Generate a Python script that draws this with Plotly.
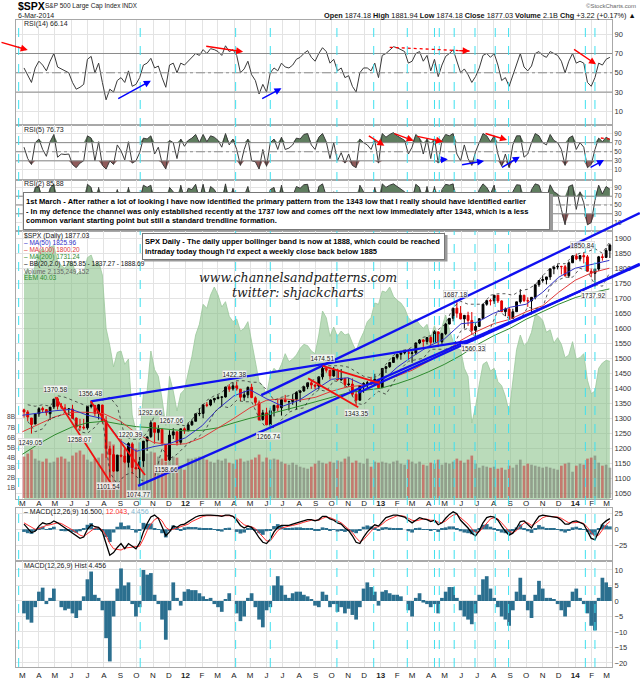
import pandas as pd
import plotly.graph_objects as go

W, H = 640, 679
PL, PR = 16, 612
X0, X1 = pd.Timestamp('2011-02-17'), pd.Timestamp('2014-03-11')
PXD = (PR - PL) / (X1 - X0).days

weeks = pd.date_range('2011-03-04', periods=158, freq='7D')
wk2 = weeks[1::2]
ma_dates = list(pd.date_range('2011-03-01', '2014-03-01', freq='MS')) + [pd.Timestamp('2014-03-06')]

spx_open = [1328,1321,1301,1281,1315,1333,1329,1315,1338,1365,1340,1334,1330,1331,1301,1272,1271,1268,1339,1343,1316,1344,1292,1198,1179,1124,1177,1174,1153,1214,1136,1131,1158,1224,1239,1285,1253,1263,1212,1162,1244,1255,1220,1265,
            1258,1278,1290,1315,1316,1345,1344,1361,1366,1370,1371,1405,1398,1408,1397,1370,1378,1403,1368,1351,1296,1318,1278,1325,1343,1335,1362,1355,1356,1363,1386,1391,1405,1418,1411,1407,1438,1466,1460,1441,1461,1428,1433,1412,1414,1380,1360,1409,1416,1418,1413,1430,
            1402,1466,1472,1486,1503,1513,1518,1520,1516,1518,1551,1561,1556,1569,1553,1588,1555,1582,1614,1633,1667,1650,1631,1643,1626,1593,1606,1632,1680,1692,1691,1710,1691,1655,1664,1633,1655,1688,1710,1692,1691,1703,1745,1759,1762,1771,1798,1804,1806,1805,1775,1818,
            1841,1831,1842,1838,1790,1783,1797,1838,1836,1859]
spx_high = [1332,1327,1301,1314,1337,1339,1329,1338,1364,1371,1351,1347,1334,1345,1302,1298,1298,1341,1356,1343,1347,1345,1307,1208,1208,1178,1231,1204,1220,1220,1195,1171,1224,1239,1293,1285,1277,1266,1212,1260,1267,1255,1265,1270,
            1284,1296,1315,1334,1345,1354,1363,1368,1378,1372,1405,1414,1420,1422,1397,1392,1406,1415,1373,1359,1328,1335,1335,1345,1363,1362,1378,1358,1380,1390,1394,1406,1418,1426,1413,1438,1475,1467,1461,1471,1465,1464,1434,1434,1433,1389,1409,1420,1424,1438,1448,1431,
            1467,1473,1486,1503,1514,1518,1524,1530,1525,1552,1564,1564,1570,1573,1593,1588,1585,1618,1634,1667,1687,1674,1644,1655,1654,1620,1632,1680,1693,1698,1710,1709,1693,1669,1670,1665,1688,1730,1711,1703,1704,1745,1759,1776,1771,1798,1805,1813,1808,1811,1823,1844,
            1849,1843,1851,1844,1799,1798,1841,1847,1867,1882]
spx_low = [1302,1291,1249,1280,1305,1320,1309,1294,1331,1329,1331,1318,1311,1297,1268,1258,1262,1262,1333,1307,1296,1282,1168,1102,1121,1124,1170,1150,1136,1114,1131,1075,1138,1191,1234,1215,1226,1209,1159,1158,1231,1209,1212,1248,
           1258,1275,1290,1307,1300,1337,1340,1352,1363,1340,1369,1388,1392,1392,1357,1358,1367,1367,1343,1292,1292,1278,1267,1306,1324,1309,1354,1326,1345,1329,1354,1388,1397,1398,1397,1396,1429,1452,1429,1438,1425,1425,1403,1405,1373,1343,1360,1385,1398,1411,1410,1398,
           1402,1451,1468,1485,1496,1495,1513,1497,1485,1512,1547,1538,1546,1539,1549,1537,1548,1577,1613,1623,1635,1630,1599,1608,1577,1560,1604,1632,1675,1676,1681,1684,1655,1640,1627,1633,1655,1682,1687,1671,1646,1696,1738,1752,1746,1761,1780,1796,1779,1772,1768,1818,
           1827,1823,1816,1790,1770,1738,1791,1825,1835,1834]
spx_close = [1321,1304,1279,1314,1332,1328,1319,1337,1364,1340,1338,1333,1331,1300,1271,1271,1268,1339,1344,1316,1345,1292,1199,1179,1124,1177,1174,1154,1216,1136,1131,1155,1224,1238,1285,1253,1263,1216,1159,1244,1255,1219,1265,1258,
             1278,1289,1315,1316,1345,1343,1361,1366,1370,1371,1404,1397,1408,1398,1370,1378,1403,1369,1353,1295,1318,1278,1325,1343,1335,1362,1355,1356,1363,1386,1391,1405,1418,1411,1407,1438,1466,1460,1441,1461,1428,1433,1412,1414,1380,1360,1409,1416,1418,1413,1430,1402,
             1466,1472,1486,1503,1513,1518,1520,1516,1518,1551,1561,1556,1569,1553,1588,1555,1582,1614,1633,1667,1650,1631,1643,1626,1593,1606,1632,1680,1692,1691,1710,1691,1655,1664,1633,1655,1688,1710,1692,1691,1703,1745,1759,1762,1771,1798,1804,1806,1805,1775,1818,1841,
             1831,1842,1838,1790,1783,1797,1838,1836,1859,1877]

ma50 = [1310,1318,1325,1330,1310,1298,1225,1190,1205,1215,
        1235,1275,1330,1375,1395,1365,1340,1360,1395,1430,1435,1410,
        1420,1470,1505,1540,1565,1615,1620,1650,1670,1680,1720,1770,
        1800,1812,1822,1826]
ma100 = [1255,1280,1305,1320,1320,1315,1290,1250,1220,1212,
         1215,1235,1265,1300,1335,1360,1365,1360,1370,1390,1405,1410,
         1420,1440,1460,1490,1520,1560,1590,1615,1630,1655,1675,1720,
         1760,1785,1796,1800]
ma200 = [1180,1215,1245,1270,1285,1290,1280,1272,1268,1262,
         1258,1260,1268,1285,1300,1312,1325,1340,1355,1370,1385,1393,
         1400,1415,1432,1455,1480,1510,1545,1575,1600,1630,1655,1680,
         1702,1718,1729,1731]

bb_upper = [1345,1340,1345,1340,1375,1370,1360,1350,1340,1360,1360,1370,1340,1240,1230,1230,1250,1310,1310,1295,1280,1275,
            1295,1330,1360,1375,1385,1415,1425,1425,1420,1420,1395,1360,1370,1375,1385,1410,1425,1435,1475,1475,1475,1470,1455,1440,1435,1440,
            1480,1510,1525,1530,1545,1570,1575,1595,1615,1670,1690,1680,1680,1680,1710,1715,1715,1710,1725,1730,1745,1775,1800,1815,1815,1840,
            1850,1855,1865,1850,1889]
bb_lower = [1290,1255,1265,1300,1305,1320,1305,1255,1250,1270,1300,1120,1080,1110,1120,1095,1090,1100,1200,1165,1180,1205,
            1225,1240,1270,1320,1340,1335,1360,1355,1355,1300,1265,1270,1295,1320,1330,1335,1375,1395,1390,1425,1420,1400,1350,1345,1370,1390,
            1380,1420,1465,1490,1495,1500,1530,1530,1530,1540,1590,1600,1570,1570,1600,1660,1640,1625,1630,1670,1665,1670,1740,1760,1770,1770,
            1800,1790,1745,1740,1786]

volume_b = [4.1,4.4,4.8,3.9,3.7,3.6,3.9,3.5,3.6,4.0,4.1,3.9,3.6,4.2,4.5,4.7,4.3,3.8,3.6,3.9,4.0,4.4,5.2,5.6,5.3,4.3,4.2,4.8,4.9,5.4,4.9,5.5,4.8,4.4,4.6,4.5,4.1,3.9,3.6,4.7,4.1,4.0,3.2,2.8,
            3.9,3.9,4.0,4.1,4.0,3.8,3.6,3.5,3.8,3.7,3.9,3.5,3.4,3.8,3.9,3.6,3.7,3.8,4.0,4.3,3.6,4.0,3.8,3.9,3.8,3.6,3.4,3.3,3.5,3.3,3.1,3.0,2.9,3.1,3.4,3.7,3.5,3.4,3.6,3.5,3.7,3.6,3.9,4.1,3.5,3.7,3.5,3.4,3.9,3.1,3.6,3.5,
            3.6,3.5,3.4,3.6,3.7,3.4,3.3,3.8,3.6,3.4,3.6,3.3,3.2,3.5,3.4,3.8,3.3,3.5,3.4,3.6,3.9,3.7,3.5,3.8,4.2,3.4,3.0,3.2,3.1,3.0,3.1,2.9,3.0,2.8,3.2,3.0,3.3,3.8,3.2,3.4,3.3,3.2,3.1,3.0,3.1,3.0,2.9,2.8,3.2,3.4,3.5,2.6,
            3.2,3.4,3.3,3.9,4.0,4.2,3.5,3.2,3.3,3.0]

eem = [46.5,47,46.2,47.3,48.2,48.5,48.1,48.6,48.7,47.5,47.2,47,47.5,47.4,46.5,46.8,46.6,47.8,48,47.2,47.5,46.5,42.5,41.2,39.6,40.7,40.8,39.8,40.2,36.0,34.8,34.3,37.6,37.8,40.8,39.4,38.9,37.2,35.2,38.9,37.8,36.3,37.6,37.9,
       39.2,40.4,42.0,42.8,44.3,44.0,45.0,45.6,45.0,44.1,44.5,43.4,43,43.2,42.3,42.5,43,41.5,40,38.5,38.2,37.5,39,39.5,39.2,39.8,40.6,40,40.2,40.5,41,41.3,41.2,40.8,40.6,42,43.8,43.3,41.9,42.6,41.9,42.3,42,42.1,41.4,40.8,41.6,42.2,43,43.3,44.4,44.3,
       45.3,45.2,45.6,44.9,44.6,44.4,44,43.3,43,43.2,42.8,42.5,42.8,41.8,42.7,41.8,42.6,43.5,42.4,41.5,41,40.9,39.5,38.9,35.4,36.6,38.3,39.8,40,39.3,39.5,38.5,38.2,37.4,36.2,38.5,40.9,42,41.2,41.5,42.2,43.5,43.4,43.1,42.2,42.4,41.4,41.8,41.3,40.3,40.5,41.5,
       40.2,40.3,40.6,38.6,37.6,37.8,39.5,39.9,40.1,40.03]

rsi14 = [55,48,40,55,62,58,52,62,70,56,54,52,50,40,33,35,38,64,67,50,60,40,22,33,30,42,45,40,52,36,38,45,58,60,65,55,57,45,35,58,60,50,60,58,
         62,65,70,68,74,70,75,74,72,68,78,72,74,68,50,54,62,48,42,28,38,30,50,55,52,60,56,55,58,64,66,70,73,66,62,70,76,72,60,64,52,55,45,47,36,30,50,55,55,52,60,45,
         68,70,74,77,76,74,72,60,62,70,72,62,68,52,64,46,58,67,70,74,62,50,54,48,40,46,55,68,70,66,70,58,42,45,36,48,60,70,56,52,57,70,72,68,66,72,70,68,62,50,62,70,
         60,62,60,40,36,45,60,58,64,66]
rsi5 = [60,35,22,70,78,55,40,72,88,38,45,44,45,22,15,25,30,85,80,30,72,20,12,30,22,65,52,32,72,25,30,48,80,78,85,45,60,25,12,75,70,35,78,62,
        75,80,88,70,88,72,85,82,75,60,90,65,78,55,20,55,78,30,28,12,55,18,70,78,55,82,55,58,65,80,78,88,90,65,55,82,90,72,35,70,30,48,25,45,20,15,78,70,65,55,75,25,
        90,82,88,92,85,80,75,45,60,88,80,45,78,35,80,25,75,88,85,90,45,30,65,35,20,50,70,90,85,72,85,45,18,45,15,65,85,85,38,45,70,90,85,70,65,88,75,70,55,20,80,85,
        55,70,60,15,22,55,80,72,82,77]
rsi2 = [70,15,5,90,92,45,20,88,97,10,40,35,50,8,4,30,20,97,90,10,90,8,3,40,10,85,35,12,90,8,20,60,95,90,95,25,70,10,3,90,80,15,95,60,
        88,85,97,60,97,55,92,85,70,50,98,40,88,30,5,70,92,15,12,3,75,5,85,90,40,95,45,55,70,92,88,96,97,50,40,92,98,70,20,80,12,50,10,40,8,4,95,80,60,45,90,10,
        98,90,95,98,92,85,80,20,60,97,90,25,92,15,92,8,85,97,95,98,30,12,75,20,5,55,85,98,90,75,95,25,5,50,5,80,96,95,20,40,85,98,95,70,60,96,80,75,40,5,92,96,
        40,80,55,5,10,60,95,75,92,86]

macd = [8,2,-5,-3,5,10,8,9,13,10,6,2,-1,-5,-10,-14,-12,0,7,4,3,-4,-22,-40,-36,-28,-22,-30,-22,-26,-30,-21,-4,9,19,22,17,4,-10,-4,5,3,7,8,
        12,16,19,21,22,22,22,22,21,20,22,22,20,14,6,2,5,3,-4,-13,-20,-22,-15,-4,3,6,6,6,8,10,12,14,15,15,13,15,20,20,16,14,10,8,2,-2,-10,-20,-22,-12,-4,2,7,5,
        12,18,20,22,22,21,19,14,10,14,18,16,15,12,14,7,10,17,23,27,24,14,8,2,-6,-10,-2,10,18,20,19,14,5,-3,-9,-6,2,12,13,7,2,12,20,22,21,20,19,18,14,8,8,12,
        13,11,8,-3,-14,-16,-4,8,13,16.5]
signal = [10,7,3,0,1,4,6,7,9,10,9,6,3,-1,-5,-9,-11,-7,-2,2,2.5,-1,-10,-22,-30,-31,-32,-29,-28,-27,-27,-26,-15,-2,8,15,18,13,3,-1,0,2,4,6,
          8,12,15,18,20,21,21,22,22,22,21.5,21,20,17,12,7,5,4,1,-5,-12,-18,-18,-10,-2,2,4,5,6,7,9,11,13,14,14,14,17,19,18,16,13,10,5,1,-5,-13,-19,-16,-9,-3,3,4,
          8,13,16,19,21,21,20,17,14,13,15,16,15.5,14,14,11,10,13,18,22,23,18,13,8,1,-5,-4,3,10,16,18,16,10,3,-3,-5,-2,4,10,10,6,9,14,18,20,20,19.5,19,17,13,10,10,
          11,11,9,3,-5,-11,-9,-1,7,12]
hist = [-4,-6,-7,-2,3,4.3,-1,1,4,0,-2,-3,-2.5,-4,-5.5,-3,1.5,7,9.5,2,1,-3,-12,-19.5,-5,4,10.5,5,6,-1,-5,-2,10,8.5,9,2,-1,-6,-12.5,-3,6,1,-1.5,3,
        3.8,3.5,3.5,2.5,1.5,0.5,1,-1,-2,-3.5,0.5,2.5,0,-4,-6.5,-5,1,2.5,-2,-6,-8.5,-3,-2,5,8,5,2,1,2.5,3,3,2,1.5,0.5,-1.5,-2,3,2,-2,-1,-3.5,-2,-4,-2.5,-4.5,-6,-2,4,6,4.5,3,-1.5,
        3,3.5,2.5,2,2,1.5,0,-3,-5,1,2.5,-0.5,-1,-2,-1,-4,1,3,4.5,4.5,1,-3,-5,-6,-7.5,-4,2,7,8,4,1,-2,-5,-6,-8,-3,3,7.5,2,-3,-5.5,2,6.5,4,1,1,0.5,-1,-3,-5,-2,3,
        4,1,-1,-4,-8,-9.5,1,7.5,6,4.5]

for arr in (spx_open, spx_high, spx_low, spx_close, volume_b, eem, rsi14, rsi5, rsi2, macd, signal, hist):
    assert len(arr) == 158, len(arr)
assert len(bb_upper) == 79 and len(bb_lower) == 79
assert len(ma50) == len(ma_dates) == len(ma100) == len(ma200)

marker_dates = ['2011-02-22', '2011-10-08', '2012-04-04', '2012-06-08', '2012-10-11', '2012-12-19',
                '2013-02-20', '2013-04-12', '2013-04-21', '2013-05-19', '2013-06-27', '2013-08-04',
                '2013-08-29', '2014-01-20', '2014-02-07']

pivots = [('2011-05-02', 1370.58, 1), ('2011-07-07', 1356.48, 1), ('2011-03-16', 1249.05, -1),
          ('2011-06-16', 1258.07, -1), ('2011-08-09', 1101.54, -1), ('2011-10-04', 1074.77, -1),
          ('2011-09-20', 1220.39, 1), ('2011-10-27', 1292.66, 1), ('2011-12-05', 1267.06, 1),
          ('2011-11-25', 1158.66, -1), ('2012-04-02', 1422.38, 1), ('2012-06-04', 1266.74, -1),
          ('2012-09-14', 1474.51, 1), ('2012-11-16', 1343.35, -1), ('2013-05-22', 1687.18, 1),
          ('2013-06-24', 1560.33, -1), ('2014-01-15', 1850.84, 1), ('2014-02-05', 1737.92, -1)]

blue_lines = [('2011-10-04', 1074.77, '2014-05-02', 1811), ('2011-07-07', 1356.48, '2013-06-24', 1560.33),
              ('2012-05-22', 1377, '2014-05-02', 1984), ('2012-11-20', 1385, '2014-05-02', 1815)]
red_lines = [('2011-05-02', 1370.58, '2011-08-22', 1062), ('2011-07-07', 1356.48, '2011-10-17', 1111),
             ('2012-09-14', 1474.51, '2012-12-30', 1417), ('2012-08-18', 1433, '2012-11-20', 1337)]

# (panel, tail date, tail value, head date, head value, colour, dotted)
arrows = [(1, '2011-01-18', 81.9, '2011-03-11', 73.6, 'red', False),
          (1, '2012-02-06', 77.7, '2012-04-18', 71.8, 'red', False),
          (1, '2013-01-18', 76.4, '2013-06-17', 72.5, 'red', True),
          (1, '2013-12-27', 75.3, '2014-02-09', 58.8, 'red', False),
          (1, '2011-08-25', 22.5, '2011-10-28', 41.8, 'blue', False),
          (1, '2012-05-21', 22.5, '2012-06-29', 33.9, 'blue', False),
          (2, '2012-12-07', 86.8, '2013-01-08', 63.3, 'red', False),
          (2, '2013-01-24', 91.2, '2013-03-04', 74.3, 'red', False),
          (2, '2013-03-08', 84.6, '2013-04-28', 72.1, 'red', False),
          (2, '2013-07-14', 91.2, '2013-08-26', 75.8, 'red', False),
          (2, '2014-02-18', 80.2, '2014-03-10', 77.4, 'red', True),
          (2, '2013-04-20', 31.9, '2013-05-07', 33.4, 'blue', False),
          (2, '2013-05-31', 20.9, '2013-07-14', 29.7, 'blue', False),
          (2, '2013-08-14', 13.6, '2013-09-19', 39.1, 'blue', False),
          (2, '2014-01-27', 13.6, '2014-02-24', 31.9, 'blue', False)]

month_starts = pd.date_range('2011-03-01', '2014-03-01', freq='MS')
month_text = ['<b>%02d</b>' % (d.year % 100) if d.month == 1 else 'JFMAMJJASOND'[d.month - 1] for d in month_starts]

FONT = 'Liberation Sans, Arial, sans-serif'
GRID = '#e3e3e3'
BORDER = '#a8a8a8'


def ydom(top, bot):
    return [1 - bot / H, 1 - top / H]


def px(x):
    return x / W


def py(y):
    return 1 - y / H


fig = go.Figure()


def rsi_panel(vals, xa, ya, fills):
    n = len(vals)
    if fills:
        fig.add_trace(go.Scatter(x=weeks, y=[70] * n, xaxis=xa, yaxis=ya, mode='lines', line=dict(width=0), hoverinfo='skip'))
        fig.add_trace(go.Scatter(x=weeks, y=[max(v, 70) for v in vals], xaxis=xa, yaxis=ya, mode='lines',
                                 line=dict(width=0), fill='tonexty', fillcolor='#5f7d5f', hoverinfo='skip'))
        fig.add_trace(go.Scatter(x=weeks, y=[30] * n, xaxis=xa, yaxis=ya, mode='lines', line=dict(width=0), hoverinfo='skip'))
        fig.add_trace(go.Scatter(x=weeks, y=[min(v, 30) for v in vals], xaxis=xa, yaxis=ya, mode='lines',
                                 line=dict(width=0), fill='tonexty', fillcolor='#8f5a5a', hoverinfo='skip'))
    fig.add_trace(go.Scatter(x=weeks, y=vals, xaxis=xa, yaxis=ya, mode='lines', line=dict(color='#3a3a3a', width=1)))


rsi_panel(rsi14, 'x', 'y', False)
rsi_panel(rsi5, 'x2', 'y2', True)
rsi_panel(rsi2, 'x3', 'y3', True)

# ---------- Price panel ----------
fig.add_trace(go.Scatter(x=weeks, y=eem, xaxis='x4', yaxis='y4', mode='lines', fill='tozeroy',
                         line=dict(color='#9cc89c', width=0.8), fillcolor='rgba(130,190,130,0.55)'))
vol_colors = ['rgba(200,70,70,0.65)' if c < o else 'rgba(120,120,110,0.6)' for o, c in zip(spx_open, spx_close)]
fig.add_trace(go.Bar(x=weeks, y=[v * 1e9 for v in volume_b], xaxis='x4', yaxis='y7',
                     marker=dict(color=vol_colors, line=dict(width=0)), width=5 * 86400000))
fig.add_trace(go.Scatter(x=ma_dates, y=ma200, xaxis='x4', yaxis='y8', mode='lines', line=dict(color='#2e8b2e', width=1)))
fig.add_trace(go.Scatter(x=ma_dates, y=ma100, xaxis='x4', yaxis='y8', mode='lines', line=dict(color='#e03a3a', width=1)))
fig.add_trace(go.Scatter(x=ma_dates, y=ma50, xaxis='x4', yaxis='y8', mode='lines', line=dict(color='#3030c8', width=1)))
fig.add_trace(go.Scatter(x=wk2, y=bb_upper, xaxis='x4', yaxis='y8', mode='lines', line=dict(color='#333', width=0.8, dash='dot')))
fig.add_trace(go.Scatter(x=wk2, y=bb_lower, xaxis='x4', yaxis='y8', mode='lines', line=dict(color='#333', width=0.8, dash='dot')))
fig.add_trace(go.Candlestick(x=weeks, open=spx_open, high=spx_high, low=spx_low, close=spx_close, xaxis='x4', yaxis='y8',
                             increasing=dict(line=dict(color='black', width=1), fillcolor='black'),
                             decreasing=dict(line=dict(color='#e00000', width=1), fillcolor='#e00000'),
                             whiskerwidth=0))

# ---------- MACD ----------
fig.add_trace(go.Bar(x=weeks, y=hist, xaxis='x5', yaxis='y5', marker=dict(color='#2b6f8f', line=dict(width=0)), width=7 * 86400000))
fig.add_trace(go.Scatter(x=weeks, y=signal, xaxis='x5', yaxis='y5', mode='lines', line=dict(color='#ff3030', width=1)))
fig.add_trace(go.Scatter(x=weeks, y=macd, xaxis='x5', yaxis='y5', mode='lines', line=dict(color='black', width=1.3)))
fig.add_trace(go.Bar(x=weeks, y=hist, xaxis='x6', yaxis='y6', marker=dict(color='#2b6f8f', line=dict(width=0)), width=7 * 86400000))

# invisible overlay subplot for trendlines running past the plot edge
fig.add_trace(go.Scatter(x=[], y=[], xaxis='x9', yaxis='y9'))

# ---------- axes ----------
xcommon = dict(type='date', range=[X0, X1], domain=[px(PL), px(PR)], tickmode='array', tickvals=month_starts,
               ticktext=month_text, showgrid=True, gridcolor=GRID, gridwidth=1, showline=True, linecolor=BORDER,
               mirror=True, ticks='', showticklabels=False, zeroline=False, rangeslider=dict(visible=False),
               tickfont=dict(family=FONT, size=8, color='#222'))
ycommon = dict(side='right', showgrid=True, gridcolor=GRID, showline=True, linecolor=BORDER, mirror=True, ticks='',
               zeroline=False, tickfont=dict(family=FONT, size=7.5, color='#333'))
ysmall = dict(ycommon, tickfont=dict(family=FONT, size=6.5, color='#333'))

layout = dict(
    width=W, height=H, margin=dict(l=0, r=0, t=0, b=0), showlegend=False,
    paper_bgcolor='white', plot_bgcolor='rgba(0,0,0,0)',
    xaxis=dict(xcommon, anchor='y'),
    xaxis2=dict(xcommon, anchor='y2', matches='x'),
    xaxis3=dict(xcommon, anchor='y3', matches='x'),
    xaxis4=dict(xcommon, anchor='y4', matches='x', showticklabels=True, ticklabelstandoff=-4),
    xaxis5=dict(xcommon, anchor='y5', matches='x'),
    xaxis6=dict(xcommon, anchor='y6', matches='x', showticklabels=True),
    yaxis=dict(ycommon, anchor='x', domain=ydom(20, 125), range=[-4.1, 104.7], tickvals=[10, 30, 50, 70, 90]),
    yaxis2=dict(ysmall, anchor='x2', domain=ydom(125, 180), range=[-12.1, 108.8], tickvals=[10, 30, 50, 70, 90]),
    yaxis3=dict(ysmall, anchor='x3', domain=ydom(180, 231), range=[-9.1, 106.8], tickvals=[10, 30, 50, 70, 90]),
    yaxis4=dict(anchor='x4', domain=ydom(231, 499), range=[29.7, 49.8], showticklabels=False, showgrid=False,
                zeroline=False, showline=False, ticks=''),
    yaxis7=dict(anchor='x4', overlaying='y4', side='left', range=[-0.1e9, 26.44e9], tickvals=[i * 1e9 for i in range(1, 9)],
                ticktext=['%dB' % i for i in range(1, 9)], showgrid=False, zeroline=False, ticks='', showline=False,
                tickfont=dict(family=FONT, size=6.5, color='#444')),
    yaxis8=dict(ycommon, anchor='x4', overlaying='y4', range=[1031, 1924], tickvals=list(range(1050, 1901, 50))),
    yaxis5=dict(ycommon, anchor='x5', domain=ydom(508, 561), range=[-48.9, 32.9], tickvals=[-25, 0, 25]),
    yaxis6=dict(ycommon, anchor='x6', domain=ydom(561, 667), range=[-21.3, 12.9], tickvals=[-20, -15, -10, -5, 0, 5, 10]),
    xaxis9=dict(type='date', anchor='y9', domain=[px(PL), 1], visible=False,
                range=[X0, X1 + pd.Timedelta(days=(W - PR) / PXD)]),
    yaxis9=dict(anchor='x9', domain=ydom(178, 499), visible=False,
                range=[1031, 1924 + (231 - 178) * (1924 - 1031) / (499 - 231)]),
)
fig.update_layout(**layout)

shapes = []
annotations = []

for ya, xa in (('y', 'x'), ('y2', 'x2'), ('y3', 'x3')):
    for lvl in (70, 30):
        shapes.append(dict(type='line', xref=xa, yref=ya, x0=X0, x1=X1, y0=lvl, y1=lvl, line=dict(color='#8a8a8a', width=1)))
    shapes.append(dict(type='line', xref=xa, yref=ya, x0=X0, x1=X1, y0=50, y1=50, line=dict(color='#8a8a8a', width=1, dash='dashdot')))

for d in marker_dates:
    shapes.append(dict(type='line', xref='x', yref='paper', x0=d, x1=d, y0=py(667), y1=py(20),
                       line=dict(color='#3fe0ef', width=1, dash='dash')))

for x0, y0, x1, y1 in blue_lines:
    shapes.append(dict(type='line', xref='x9', yref='y9', x0=x0, y0=y0, x1=x1, y1=y1, line=dict(color='#1010f0', width=2.3)))
for x0, y0, x1, y1 in red_lines:
    shapes.append(dict(type='line', xref='x9', yref='y9', x0=x0, y0=y0, x1=x1, y1=y1, line=dict(color='#f01010', width=1.8)))

for panel, td, tv, hd, hv, col, dotted in arrows:
    xa, ya = ('x', 'y') if panel == 1 else ('x2', 'y2')
    if dotted:
        shapes.append(dict(type='line', xref=xa, yref=ya, x0=td, y0=tv, x1=hd, y1=hv, line=dict(color=col, width=1.3, dash='dot')))
        t0, t1 = pd.Timestamp(td), pd.Timestamp(hd)
        td = t0 + (t1 - t0) * 0.85
        tv = tv + (hv - tv) * 0.85
    annotations.append(dict(x=hd, y=hv, ax=td, ay=tv, xref=xa, yref=ya, axref=xa, ayref=ya, text='', showarrow=True,
                            arrowhead=2, arrowsize=1, arrowwidth=1.4, arrowcolor=col))

for d, p, side in pivots:
    annotations.append(dict(x=d, y=p, xref='x4', yref='y8', text='%.2f' % p, showarrow=False, yshift=8 * side,
                            font=dict(family=FONT, size=6.5, color='#222'), bgcolor='rgba(255,255,255,0.8)',
                            bordercolor='#c8c8c8', borderwidth=0.5, borderpad=0))


def label(x, y, text, size=7, color='#222', anchor='left', family=FONT, style='normal'):
    annotations.append(dict(x=px(x), y=py(y), xref='paper', yref='paper', text=text, showarrow=False,
                            xanchor=anchor, yanchor='middle', font=dict(family=family, size=size, color=color, style=style)))


label(16, 6, '<b>$SPX</b>', size=10.5, color='black')
label(43, 6, 'S&P 500 Large Cap Index', size=6.5, color='#222')
label(120, 6, 'INDX', size=6.3, color='#222')
label(16, 15, '6-Mar-2014', size=7, color='#222')
label(638, 6, '©StockCharts.com', size=6, color='#666', anchor='right')
label(638, 15, '<b>Open</b> 1874.18 <b>High</b> 1881.94 <b>Low</b> 1874.18 <b>Close</b> 1877.03 '
               '<b>Volume</b> 2.1B <b>Chg</b> +3.22 (+0.17%) ▲', size=7.3, color='#111', anchor='right')

label(22, 24, 'RSI(14) 66.14', size=7)
label(22, 130, 'RSI(5) 76.73', size=7)
label(22, 184, 'RSI(2) 85.88', size=7)
label(22, 236, '$SPX (Daily) 1877.03', size=6.8, color='#111')
label(22, 243, '– MA(50) 1825.96', size=6.5, color='#3030c8')
label(22, 250, '– MA(100) 1800.20', size=6.5, color='#e03a3a')
label(22, 257, '– MA(200) 1731.24', size=6.5, color='#2e8b2e')
label(22, 264, '– BB(20,2.0) 1785.85 - 1837.27 - 1888.69', size=6.5, color='#111')
label(22, 271, 'Volume 2,135,249,152', size=6.5, color='#666')
label(22, 277.5, 'EEM 40.03', size=6.5, color='#2e8b2e')
label(22, 512, '– MACD(12,26,9) 16.500, <span style="color:#ff3030">12.043</span>, '
               '<span style="color:#7fb8d0">4.456</span>', size=7, color='#111')
label(22, 566, 'MACD(12,26,9) Hist 4.456', size=7)

label(298, 277, 'www.channelsandpatterns.com', size=12.5, color='#222', anchor='center', family='DejaVu Serif, serif', style='italic')
label(298, 292, 'twitter: shjackcharts', size=12.5, color='#222', anchor='center', family='DejaVu Serif, serif', style='italic')

shapes.append(dict(type='rect', xref='paper', yref='paper', x0=px(25), x1=px(553), y0=py(231), y1=py(194),
                   fillcolor='#9a9a9a', line=dict(width=0)))
annotations.append(dict(x=px(22.5), y=py(191.5), xref='paper', yref='paper', xanchor='left', yanchor='top',
                        showarrow=False, align='left', width=521, height=32, borderpad=2, borderwidth=1,
                        bordercolor='#777', bgcolor='white',
                        text='<b>1st March - After rather a lot of looking I have now identified the primary pattern from the 1343 low that I really should have identified earlier<br>'
                             '- In my defence the channel was only established recently at the 1737 low and comes off the next low immediately after 1343, which is a less<br>'
                             'common variant starting point but still a standard trendline formation.</b>',
                        font=dict(family=FONT, size=7.55, color='black')))
shapes.append(dict(type='rect', xref='paper', yref='paper', x0=px(144), x1=px(447.5), y0=py(261.5), y1=py(235),
                   fillcolor='#9a9a9a', line=dict(width=0)))
annotations.append(dict(x=px(141.5), y=py(232.5), xref='paper', yref='paper', xanchor='left', yanchor='top',
                        showarrow=False, align='left', width=297, height=21, borderpad=2, borderwidth=1,
                        bordercolor='#777', bgcolor='white',
                        text='<b>SPX Daily - The daily upper bollinger band is now at 1888, which could be reached<br>'
                             'intraday today though I\'d expect a weekly close back below 1885</b>',
                        font=dict(family=FONT, size=7.55, color='black')))

fig.update_layout(shapes=shapes, annotations=annotations)
fig.write_html('out.html', config=dict(displayModeBar=False))
